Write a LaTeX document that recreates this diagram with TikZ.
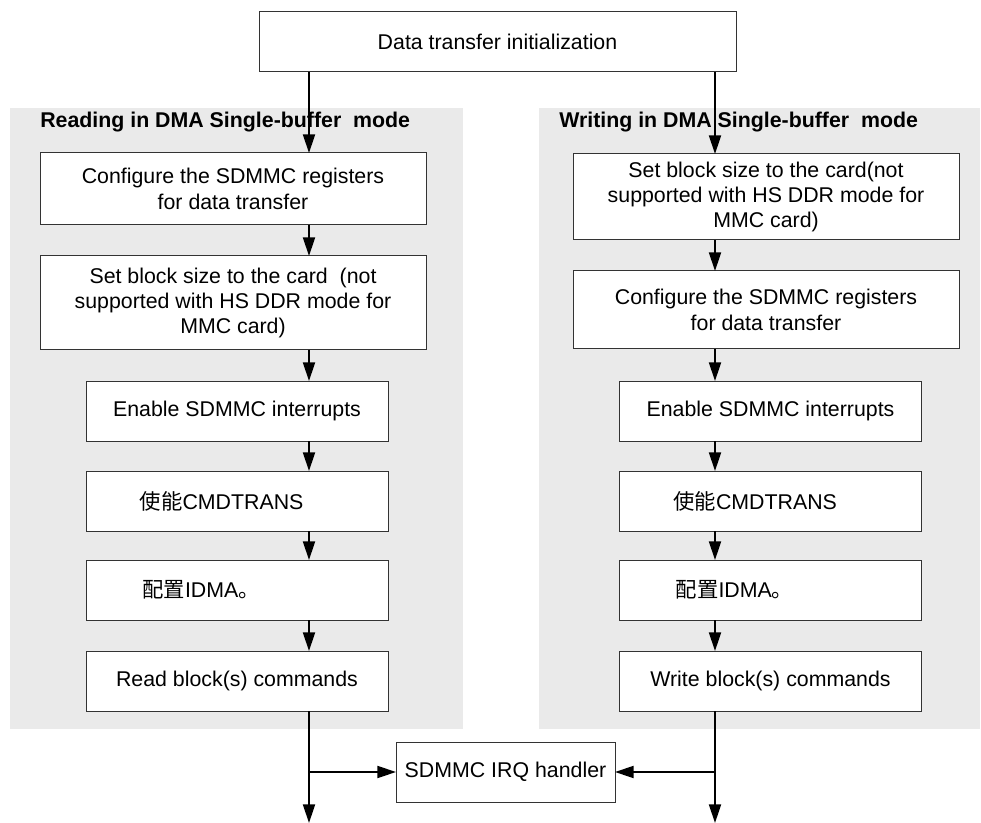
\documentclass[tikz,border=0pt]{standalone}
\usepackage{fontspec}
\setmainfont{Liberation Sans}
\newfontfamily\cjk{Noto Sans CJK SC}
\usepackage{tikz}
\usetikzlibrary{%
  calc,%
  arrows.meta%
}
\definecolor{panelgray}{HTML}{EAEAEA}
\tikzset{
	box/.style={draw=black!80, line width=0.75pt, fill=white, inner sep=0pt, outer sep=0pt,
		align=center, font=\fontsize{16}{19}\selectfont},
	wide/.style={box, minimum width=289.5pt},
	narrow/.style={box, minimum width=226.5pt, minimum height=45pt},
	title/.style={anchor=west, inner sep=0pt, font=\fontsize{16}{19}\selectfont\bfseries},
	flow/.style={line width=1.5pt, -{Triangle[length=14pt,width=9pt]}}
}
\begin{document}
\begin{tikzpicture}[x=0.75pt,y=-0.75pt]
	\useasboundingbox (0,0) rectangle (981,823);
	%Panels
	\fill[panelgray] (10,108) rectangle (463,729);
	\fill[panelgray] (539,108) rectangle (980,729);
	\node[title] (Rt) at (40,122) {Reading in DMA Single-buffer\ \ mode};
	\node[title] (Wt) at (559,122) {Writing in DMA Single-buffer\ \ mode};
	%Nodes
	\node[box, minimum width=357.75pt, minimum height=45pt] (init) at (497.5,42) {Data transfer initialization};
	\node[wide, minimum height=54pt] (R1) at (233,189) {Configure the SDMMC registers\\for data transfer};
	\node[wide, minimum height=70.5pt] (R2) at (233,303) {Set block size to the card\ \ (not\\supported with HS DDR mode for\\MMC card)};
	\node[narrow] (R3) at (237,411) {Enable SDMMC interrupts};
	\node[narrow] (R4) at (237,501) {{\cjk 使能}CMDTRANS\hspace*{23pt}};
	\node[narrow] (R5) at (237,590) {{\cjk 配置}IDMA{\cjk 。}\hspace*{54pt}};
	\node[narrow] (R6) at (237,681) {Read block(s) commands};
	\node[wide, minimum height=64.5pt] (W1) at (766,197) {Set block size to the card(not\\supported with HS DDR mode for\\MMC card)};
	\node[wide, minimum height=58.5pt] (W2) at (766,310) {Configure the SDMMC registers\\for data transfer};
	\node[narrow] (W3) at (770.5,411) {Enable SDMMC interrupts};
	\node[narrow] (W4) at (770.5,501) {{\cjk 使能}CMDTRANS\hspace*{23pt}};
	\node[narrow] (W5) at (770.5,590) {{\cjk 配置}IDMA{\cjk 。}\hspace*{54pt}};
	\node[narrow] (W6) at (770.5,681) {Write block(s) commands};
	\node[box, minimum width=164.25pt, minimum height=45pt] (irq) at (505.5,772) {SDMMC IRQ handler};
	%Lanes
	\coordinate (rl) at (309,0);
	\coordinate (wl) at (715,0);
	\coordinate (rend) at (309,823);
	\coordinate (wend) at (715,823);
	%Arrows
	\draw[flow] (init.south -| rl) -- (R1.north -| rl);
	\draw[flow] (init.south -| wl) -- (W1.north -| wl);
	\foreach \a/\b in {R1/R2,R2/R3,R3/R4,R4/R5,R5/R6}
		\draw[flow] (\a.south -| rl) -- (\b.north -| rl);
	\foreach \a/\b in {W1/W2,W2/W3,W3/W4,W4/W5,W5/W6}
		\draw[flow] (\a.south -| wl) -- (\b.north -| wl);
	\draw[flow] (R6.south -| rl) -- (rend);
	\draw[flow] (W6.south -| wl) -- (wend);
	\draw[flow] (irq.west -| rl) -- (irq.west);
	\draw[flow] (irq.east -| wl) -- (irq.east);
\end{tikzpicture}
\end{document}
